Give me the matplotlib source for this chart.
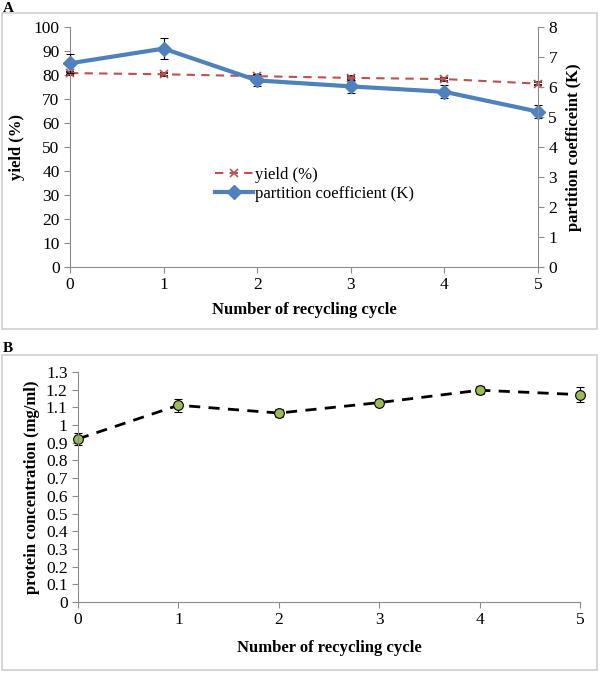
import matplotlib.pyplot as plt
from matplotlib.patches import Rectangle
from matplotlib.lines import Line2D

plt.rcParams['font.family'] = ['Liberation Serif', 'DejaVu Serif']

# data
cycles = [0, 1, 2, 3, 4, 5]
yield_pct = [80.8, 80.3, 79.5, 78.8, 78.3, 76.4]
yield_err = [0.6, 0.6, 0.6, 0.6, 0.6, 0.6]
part_k = [6.79, 7.28, 6.22, 6.02, 5.84, 5.18]
part_k_err = [0.32, 0.36, 0.2, 0.22, 0.22, 0.22]
protein = [0.922, 1.112, 1.068, 1.127, 1.197, 1.172]
protein_err = [0.035, 0.038, 0.025, 0.02, 0.022, 0.042]

W, H = 600, 673
fig = plt.figure(figsize=(W / 100, H / 100), dpi=100)

def px_rect(x0, y0, x1, y1):
    # pixel box (top-left origin) -> figure fraction [l, b, w, h]
    return [x0 / W, 1 - y1 / H, (x1 - x0) / W, (y1 - y0) / H]

# panel frames
for y0, y1 in [(13, 329), (355, 670)]:
    l, b, w, h = px_rect(2, y0, 597, y1)
    fig.patches.append(Rectangle((l, b), w, h, transform=fig.transFigure,
                                 fill=False, edgecolor='#d0d0d0', lw=1.2))
fig.text(3 / W, 1 - 8 / H, 'A', fontsize=11, fontweight='bold', va='center')
fig.text(3 / W, 1 - 348 / H, 'B', fontsize=11, fontweight='bold', va='center')

axis_grey = '#8c8c8c'
red = '#c0504d'
blue = '#4f81bd'
green = '#9bbb59'

# ---- panel A ----
ax = fig.add_axes(px_rect(70, 27, 538, 267))
ax2 = ax.twinx()

ax.errorbar(cycles, yield_pct, yerr=yield_err, color=red, ls=(0, (4, 3)),
            lw=1.5, marker='x', ms=6, mew=1.2, ecolor='black', elinewidth=0.8,
            capsize=3, capthick=0.8, clip_on=False)
ax2.errorbar(cycles, part_k, yerr=part_k_err, color=blue, lw=3,
             marker='D', ms=7, ecolor='black', elinewidth=0.8, capsize=3,
             capthick=0.8, clip_on=False)

ax.set_xlim(0, 5)
ax.set_ylim(0, 100)
ax.set_yticks(range(0, 101, 10))
ax2.set_ylim(0, 8)
ax2.set_yticks(range(0, 9))
ax.set_xticks(cycles)

for a in (ax, ax2):
    a.spines['top'].set_visible(False)
    for s in a.spines.values():
        s.set_color(axis_grey)
    a.tick_params(colors=axis_grey, labelcolor='black', labelsize=12.5,
                  direction='out', length=4)
ax.spines['right'].set_visible(False)
ax2.spines['left'].set_visible(False)
ax2.spines['bottom'].set_visible(False)

ax.set_xlabel('Number of recycling cycle', fontsize=12, fontweight='bold', labelpad=6)
ax.set_ylabel('yield (%)', fontsize=12, fontweight='bold', labelpad=6)
ax2.set_ylabel('partition coefficeint (K)', fontsize=12, fontweight='bold', labelpad=6)

h1 = Line2D([], [], color=red, ls=(0, (4, 3)), lw=1.5, marker='x', ms=6, mew=1.2)
h2 = Line2D([], [], color=blue, lw=3, marker='D', ms=7)
ax.legend([h1, h2], ['yield (%)', 'partition coefficient (K)'], frameon=False,
          loc='upper left', bbox_to_anchor=(0.295, 0.445), fontsize=12,
          handlelength=2.3, handletextpad=0.1, borderaxespad=0, labelspacing=0.2)

# ---- panel B ----
bx = fig.add_axes(px_rect(78, 372, 580, 602))
bx.errorbar(cycles, protein, yerr=protein_err, color='black', ls=(0, (4, 3)),
            lw=2, marker='o', ms=7, mfc=green, mec='black', mew=0.8,
            ecolor='black', elinewidth=0.8, capsize=3, capthick=0.8, clip_on=False)
bx.set_xlim(0, 5)
bx.set_ylim(0, 1.3)
bx.set_xticks(cycles)
bx.set_yticks([i / 10 for i in range(14)])
bx.set_yticklabels(['0', '0.1', '0.2', '0.3', '0.4', '0.5', '0.6', '0.7', '0.8',
                    '0.9', '1', '1.1', '1.2', '1.3'])
bx.spines['top'].set_visible(False)
bx.spines['right'].set_visible(False)
for s in bx.spines.values():
    s.set_color(axis_grey)
bx.tick_params(colors=axis_grey, labelcolor='black', labelsize=12.5,
               direction='out', length=4)
bx.set_xlabel('Number of recycling cycle', fontsize=12, fontweight='bold', labelpad=8)
bx.set_ylabel('protein concentration (mg/ml)', fontsize=12, fontweight='bold', labelpad=4)

fig.savefig('out.png', dpi=100)
